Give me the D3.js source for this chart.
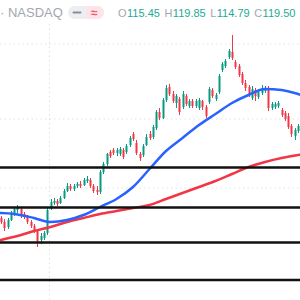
<!DOCTYPE html>
<html><head><meta charset="utf-8">
<script src="https://cdn.jsdelivr.net/npm/d3@7"></script>
<style>html,body{margin:0;padding:0;background:#fff;overflow:hidden}svg{display:block}</style>
</head><body><svg id="c" width="300" height="300"></svg>
<script>
// ---- data ----
const symbol = "NASDAQ";
const ohlcLabels = ["O", "H", "L", "C"];
const ohlcValues = ["115.45", "119.85", "114.79", "119.50"];

const opens  = [91,89,86.5,90,93,95,95.5,93,91.5,89,87,84.5,80,81,83.5,95.5,98.5,99.5,98.5,101,104.5,107,105.5,107,108,107.5,109.5,110,107,105,104,114,118,124,125,123.5,123,125,124,127.5,133,128.5,123,122.5,127.5,133,131.5,136,144,141,150,156.5,153,148.5,150.5,146.5,152,147,149.5,147,146,149.5,146.5,149,155,150.5,154,165,167,171.5,174,169,167,163,158.5,156.5,151,155,151.5,153.5,154.5,156,146,146.5,147,145,143.5,142,137,132,134.5];
const highs  = [92,90.5,91,94.5,96.5,97.5,96.5,94,92.5,90,88,85.5,83.5,84.5,96.5,100.5,101,100.5,102,105.5,108.5,108,108,109,109.5,111,112,111,108,107,115,119,123.5,125,126,126,126.5,126,128,132,134,130,124,128,133,134.5,137.5,145,146,151,157.5,158,154.5,153,151.5,154.5,153,150.5,150.5,150.5,151,150,147.5,156.5,156,153.5,163,169,170.5,175.5,182.5,170,168,164,160,157.5,157,156,155.5,157.5,157,157,149,149,149.5,146,144.5,143.5,138,136,138];
const lows   = [88,84.5,85.5,89.5,92,93.5,91,90.5,88,86,83.5,76.5,78,80,82.5,95,97.5,97,98,100.5,104,104.5,104.5,106,106,107,108.5,106,103.5,102.5,103,113,117,121,122.5,122,122,120.5,123,126.5,129.5,122.5,119.5,121.5,127,130,130.5,135,140,140.5,149,152,148.5,146,142.5,145.5,147,146,146,146,145,145,141,148,151,149.5,153,164,166,170.5,170,165.5,161.5,157.5,154.5,151.5,150,149.5,150.5,152.5,153.5,144.5,145,145.5,146,141.5,139.5,135.5,131.5,130,133.5];
const closes = [89,86,90,93.5,95.5,96,92,91.5,89,87,84.5,79.5,82,83.5,95,99,99.5,98,101,104.5,107,105.5,107,108,107,110,110.5,107,104.5,104,114,118,123,122,123.5,125,125.5,121.5,127,131,130.5,123.5,121,127,131.5,131,136.5,144,141,150,156,153,149.5,152,144,153,148,149.5,147,149.5,150,146.5,142,155.5,152,152.5,162,168,169.5,174.5,171,166.5,162.5,158.5,156,153,155.5,152,154,156,156,146,148,148,148.5,142.5,140.5,136.5,133,135,137];

// moving averages, read every 5th bar (plus one bar past each edge)
const maBars   = [-1,0,5,10,15,20,25,30,35,40,45,50,55,60,65,70,75,80,85,90,91];
const maBlue   = [93.5,93.5,92.75,91,89,90,92.5,96.5,100.5,106.5,115.5,124.5,131,137.5,143,148.5,152.5,155.5,155,153,152.5];
const maRed    = [79.5,80,82,84.5,86.5,89,91,93,94.5,96,97.5,100.5,103.5,106.5,109.5,113,116.5,119,121,122.5,122.75];

// horizontal drawn levels and grid
const levels     = [116.25, 96.25, 78.75, 60];
const gridLevels = [178, 140.5, 106];
const gridBars   = [14.7];

// ---- scales ----
const W = 300, H = 300;
const x = d3.scaleLinear().domain([0, opens.length - 1]).range([1, 298]);
const y = d3.scaleLinear().domain([50, 200]).range([300, 0]);
const UP = "#089981", DOWN = "#f23645";

const svg = d3.select("#c");

// grid
svg.append("g").selectAll("line").data(gridLevels).join("line")
  .attr("x1", 0).attr("x2", W).attr("y1", d => y(d)).attr("y2", d => y(d))
  .attr("stroke", "#dfe1e6").attr("stroke-width", 1).attr("stroke-dasharray", "1.5,3");
svg.append("g").selectAll("line").data(gridBars).join("line")
  .attr("y1", 24).attr("y2", H).attr("x1", d => x(d)).attr("x2", d => x(d))
  .attr("stroke", "#dfe1e6").attr("stroke-width", 1).attr("stroke-dasharray", "1.5,3");

// candles
const bars = d3.range(opens.length).map(i => ({i, o: opens[i], h: highs[i], l: lows[i], c: closes[i]}));
const cg = svg.append("g");
cg.selectAll("line").data(bars).join("line")
  .attr("x1", d => Math.round(x(d.i)) + 0.5).attr("x2", d => Math.round(x(d.i)) + 0.5)
  .attr("y1", d => y(d.h)).attr("y2", d => y(d.l))
  .attr("stroke", d => d.c >= d.o ? UP : DOWN).attr("stroke-width", 1);
cg.selectAll("rect").data(bars).join("rect")
  .attr("x", d => Math.round(x(d.i)) - 0.5).attr("width", 2)
  .attr("y", d => y(Math.max(d.o, d.c)))
  .attr("height", d => Math.max(1, Math.abs(y(d.o) - y(d.c))))
  .attr("fill", d => d.c >= d.o ? UP : DOWN);

// moving averages
const line = vals => d3.line().curve(d3.curveMonotoneX)
  .x((d, k) => x(maBars[k])).y(d => y(d))(vals);
svg.append("path").attr("d", line(maRed)).attr("fill", "none")
  .attr("stroke", "#f23645").attr("stroke-width", 2.5);
svg.append("path").attr("d", line(maBlue)).attr("fill", "none")
  .attr("stroke", "#2962ff").attr("stroke-width", 2.5);

// horizontal levels
svg.append("g").selectAll("line").data(levels).join("line")
  .attr("x1", 0).attr("x2", W).attr("y1", d => y(d)).attr("y2", d => y(d))
  .attr("stroke", "#111").attr("stroke-width", 2.6);

// header legend
const hdr = svg.append("g").attr("font-family", "'Liberation Sans', Arial, sans-serif");
hdr.append("text").attr("x", 0).attr("y", 17).attr("font-size", 13).attr("fill", "#a3a6af").text("· " + symbol);
// toggle pill
hdr.append("rect").attr("x", 68).attr("y", 6).attr("width", 36).attr("height", 13).attr("rx", 6.5).attr("fill", "#eceef2");
hdr.append("path").attr("d", "M86,6 h11.5 a6.5,6.5 0 0 1 0,13 h-11.5 z").attr("fill", "#fde4e8");
hdr.append("line").attr("x1", 73.5).attr("x2", 80.5).attr("y1", 12.5).attr("y2", 12.5).attr("stroke", "#8a8d96").attr("stroke-width", 2).attr("stroke-linecap", "round");
hdr.append("text").attr("x", 91).attr("y", 16.5).attr("font-size", 12).attr("fill", "#f05a6e").attr("font-weight", "bold").text("≈");
const t = hdr.append("text").attr("x", 118).attr("y", 17).attr("font-size", 11);
ohlcLabels.forEach((lab, k) => {
  t.append("tspan").attr("dx", k ? 4.5 : 0).attr("fill", "#a3a6af").text(lab);
  t.append("tspan").attr("dx", 0.5).attr("fill", "#22ab94").text(ohlcValues[k]);
});
</script></body></html>
